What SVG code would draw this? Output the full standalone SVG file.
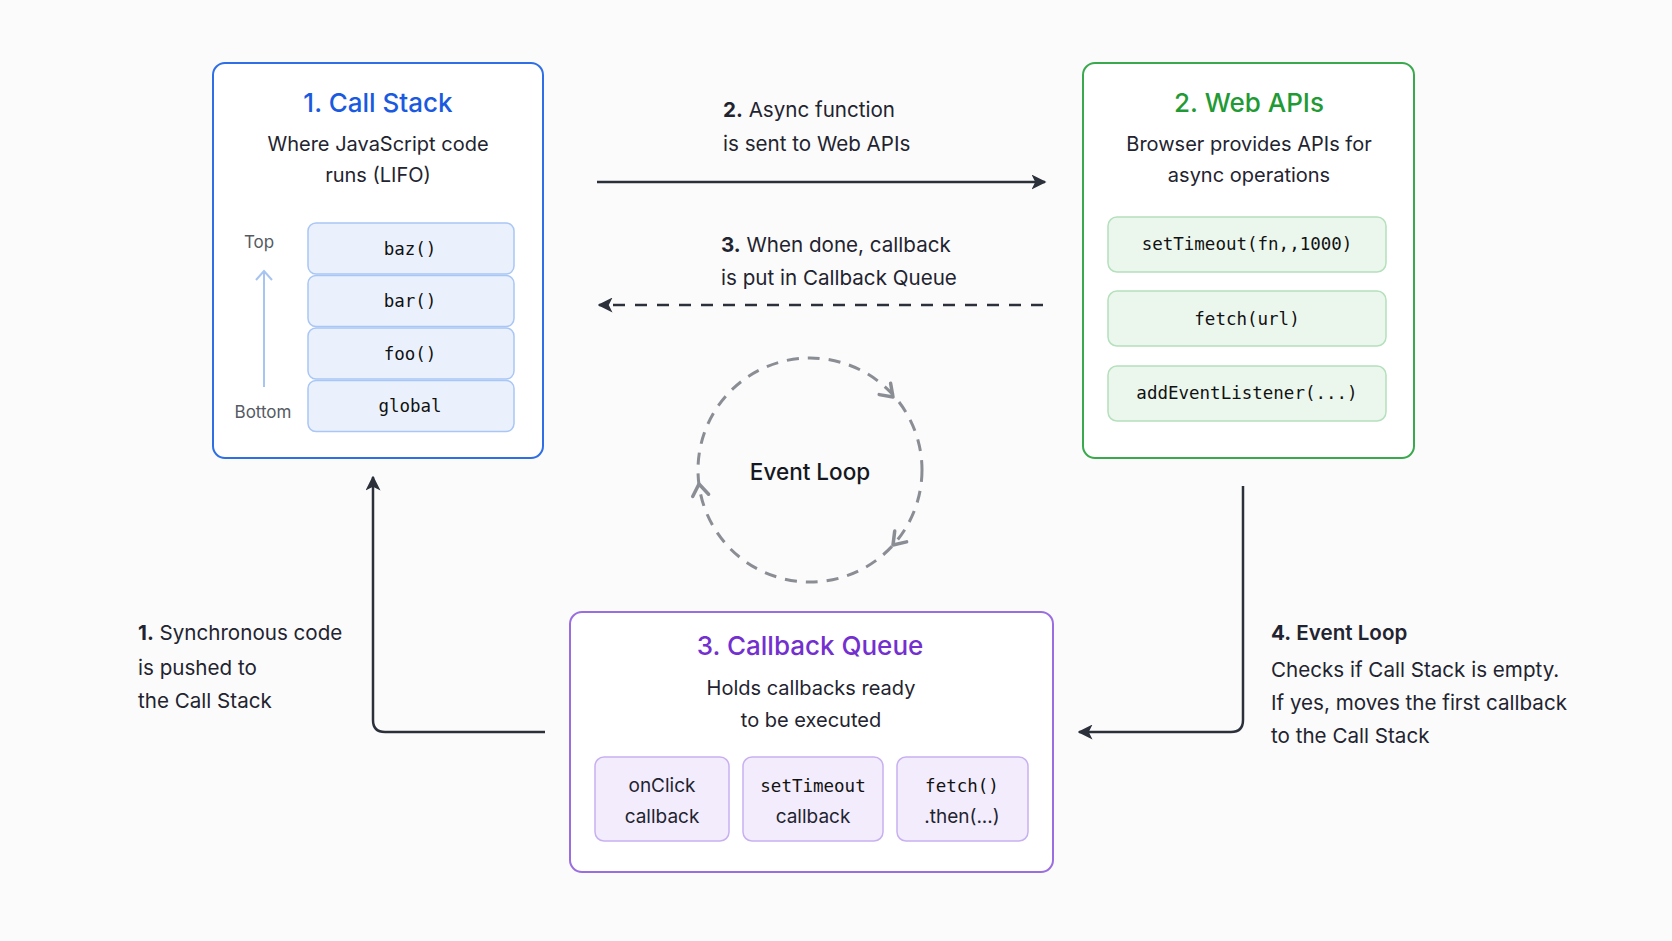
<svg xmlns="http://www.w3.org/2000/svg" width="1672" height="941" viewBox="0 0 1672 941">
<style>
.bg{fill:#fbfbfb}
.card{fill:#ffffff;stroke-width:2}
.title{font-family:Inter,"Liberation Sans",sans-serif;font-size:26px;font-weight:500;text-anchor:middle}
.sub{font-family:Inter,"Liberation Sans",sans-serif;font-size:20px;fill:#1f2430;text-anchor:middle}
.mono{font-family:"DejaVu Sans Mono","Liberation Mono",monospace;font-size:17.5px;fill:#111;text-anchor:middle}
.sans{font-family:Inter,"Liberation Sans",sans-serif;font-size:19px;fill:#1f2430;text-anchor:middle}
.lbl{font-family:Inter,"Liberation Sans",sans-serif;font-size:20.6px;fill:#1f2430}
.small{font-family:Inter,"Liberation Sans",sans-serif;font-size:17px;fill:#555a63;text-anchor:middle}
.b{font-weight:700}
.conn{fill:none;stroke:#2b303b;stroke-width:2.5}
.loopah{fill:none;stroke:#8a8d94;stroke-width:3.5;stroke-linejoin:round;stroke-linecap:round}
</style>
<defs>
<marker id="ah" viewBox="0 0 10 10" refX="9" refY="5" markerWidth="6" markerHeight="6" orient="auto" markerUnits="strokeWidth">
<path d="M0,0 L10,5 L0,10 L2.5,5 Z" fill="#2b303b"/>
</marker>
</defs>
<rect class="bg" x="0" y="0" width="1672" height="941"/>

<g id="call-stack">
<rect class="card" x="213" y="63" width="330" height="395" rx="12" stroke="#2f6fe6"/>
<text class="title" x="378" y="112" fill="#1a5ae0">1. Call Stack</text>
<text class="sub" x="378" y="151">Where JavaScript code</text>
<text class="sub" x="378" y="182">runs (LIFO)</text>
<text class="small" x="259" y="248">Top</text>
<text class="small" x="263" y="418">Bottom</text>
<line x1="264" y1="387" x2="264" y2="272" stroke="#a8c4f0" stroke-width="2"/>
<path d="M256,280 L264,271 L272,280" fill="none" stroke="#a8c4f0" stroke-width="2"/>
<g fill="#eaf1fd" stroke="#a9c6f5" stroke-width="1.5">
<rect x="308" y="223" width="206" height="51" rx="8"/>
<rect x="308" y="275.5" width="206" height="51" rx="8"/>
<rect x="308" y="328" width="206" height="51" rx="8"/>
<rect x="308" y="380.5" width="206" height="51" rx="8"/>
</g>
<text class="mono" x="410" y="255">baz()</text>
<text class="mono" x="410" y="307">bar()</text>
<text class="mono" x="410" y="360">foo()</text>
<text class="mono" x="410" y="412">global</text>
</g>

<g id="web-apis">
<rect class="card" x="1083" y="63" width="331" height="395" rx="12" stroke="#3aa94e"/>
<text class="title" x="1249" y="112" fill="#1f9a35">2. Web APIs</text>
<text class="sub" x="1249" y="151">Browser provides APIs for</text>
<text class="sub" x="1249" y="182">async operations</text>
<g fill="#ebf7ed" stroke="#b5e0bd" stroke-width="1.5">
<rect x="1108" y="217" width="278" height="55" rx="9"/>
<rect x="1108" y="291" width="278" height="55" rx="9"/>
<rect x="1108" y="366" width="278" height="55" rx="9"/>
</g>
<text class="mono" x="1247" y="250">setTimeout(fn,,1000)</text>
<text class="mono" x="1247" y="325">fetch(url)</text>
<text class="mono" x="1247" y="399">addEventListener(...)</text>
</g>

<g id="callback-queue">
<rect class="card" x="570" y="612" width="483" height="260" rx="12" stroke="#9a6ee0"/>
<text class="title" x="810" y="655" fill="#7330cf">3. Callback Queue</text>
<text class="sub" x="811" y="695">Holds callbacks ready</text>
<text class="sub" x="811" y="727">to be executed</text>
<g fill="#f2ecfc" stroke="#c8b0f0" stroke-width="1.5">
<rect x="595" y="757" width="134" height="84" rx="9"/>
<rect x="743" y="757" width="140" height="84" rx="9"/>
<rect x="897" y="757" width="131" height="84" rx="9"/>
</g>
<text class="sans" x="662" y="792">onClick</text>
<text class="sans" x="662" y="823">callback</text>
<text class="mono" x="813" y="792">setTimeout</text>
<text class="sans" x="813" y="823">callback</text>
<text class="mono" x="962" y="792">fetch()</text>
<text class="sans" x="962" y="823">.then(...)</text>
</g>

<g id="event-loop">
<circle cx="810" cy="470" r="112" fill="none" stroke="#8a8d94" stroke-width="3" stroke-dasharray="12 9"/>
<path class="loopah" d="M890.6,383.2 L893,397 L879.2,394.6"/>
<path class="loopah" d="M906.6,541.9 L893,545 L894.7,531.1"/>
<path class="loopah" d="M692.7,496.5 L699,484 L708.6,494.2"/>
<text x="810" y="480" font-family="Inter,'Liberation Sans',sans-serif" font-size="22.5" font-weight="500" fill="#15181f" text-anchor="middle">Event Loop</text>
</g>

<g id="connectors">
<line class="conn" x1="597" y1="182" x2="1045" y2="182" marker-end="url(#ah)"/>
<line class="conn" x1="1043" y1="305" x2="599" y2="305" stroke-dasharray="12 10" marker-end="url(#ah)"/>
<path class="conn" d="M545,732 H385 Q373,732 373,720 V477" marker-end="url(#ah)"/>
<path class="conn" d="M1243,486 V720 Q1243,732 1231,732 H1079" marker-end="url(#ah)"/>
</g>

<g id="labels">
<text class="lbl" x="723" y="117"><tspan class="b">2.</tspan> Async function</text>
<text class="lbl" x="723" y="151">is sent to Web APIs</text>
<text class="lbl" x="721" y="252"><tspan class="b">3.</tspan> When done, callback</text>
<text class="lbl" x="721" y="285">is put in Callback Queue</text>
<text class="lbl" x="138" y="640"><tspan class="b">1.</tspan> Synchronous code</text>
<text class="lbl" x="138" y="675">is pushed to</text>
<text class="lbl" x="138" y="708">the Call Stack</text>
<text class="lbl" x="1271" y="640" font-weight="600"><tspan class="b">4.</tspan> Event Loop</text>
<text class="lbl" x="1271" y="677">Checks if Call Stack is empty.</text>
<text class="lbl" x="1271" y="710">If yes, moves the first callback</text>
<text class="lbl" x="1271" y="743">to the Call Stack</text>
</g>
</svg>
